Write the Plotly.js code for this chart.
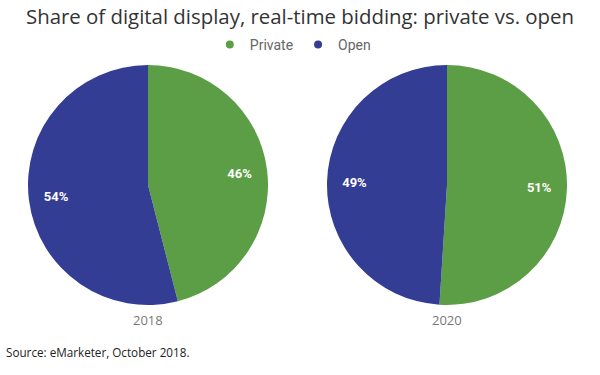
<!DOCTYPE html>
<html>
<head>
<meta charset="utf-8">
<script src="https://cdn.plot.ly/plotly-3.0.1.min.js"></script>
<style>html,body{margin:0;padding:0;background:#fff;}#chart{width:600px;height:375px;}</style>
</head>
<body>
<div id="chart"></div>
<script>
const categories = ["Private", "Open"];
const years = ["2018", "2020"];
const values2018 = [46, 54];
const values2020 = [51, 49];
const colors = ["#5c9e46", "#343d94"];
const titleText = "Share of digital display, real-time bidding: private vs. open";
const sourceText = "Source: eMarketer, October 2018.";

const domains = [
  {x: [28/600, 268/600], y: [1 - 305/375, 1 - 65/375]},
  {x: [327/600, 567/600], y: [1 - 305/375, 1 - 65/375]}
];
const seriesValues = [values2018, values2020];

const pieCommon = {
  type: "pie",
  labels: categories,
  sort: false,
  direction: "clockwise",
  rotation: 0,
  hoverinfo: "none",
  showlegend: false
};

const traces = [];
// filled pies
seriesValues.forEach((v, i) => {
  traces.push(Object.assign({}, pieCommon, {
    values: v, domain: domains[i],
    marker: {colors: colors, line: {width: 0}},
    textinfo: "none"
  }));
});
// percentage labels (transparent ring so labels sit further out)
seriesValues.forEach((v, i) => {
  traces.push(Object.assign({}, pieCommon, {
    values: v, domain: domains[i], hole: 0.54,
    marker: {colors: ["rgba(0,0,0,0)", "rgba(0,0,0,0)"], line: {width: 0}},
    texttemplate: "<b>%{percent:.0%}</b>",
    textposition: "inside",
    insidetextorientation: "horizontal",
    insidetextfont: {family: "Roboto, sans-serif", size: 13, color: "#ffffff"}
  }));
});

categories.forEach((c, i) => {
  traces.push({
    type: "scatter", mode: "markers", x: [null], y: [null], name: c,
    marker: {symbol: "circle", size: 8, color: colors[i]},
    showlegend: true, hoverinfo: "none"
  });
});

const layout = {
  width: 600, height: 375,
  margin: {l: 0, r: 0, t: 0, b: 0},
  paper_bgcolor: "#ffffff", plot_bgcolor: "rgba(0,0,0,0)",
  title: {
    text: titleText,
    font: {family: "Open Sans, sans-serif", size: 20.4, color: "#333333"},
    x: 0.5, xanchor: "center", y: 1 - 17/375, yanchor: "middle"
  },
  xaxis: {visible: false, domain: [0, 0.01]},
  yaxis: {visible: false, domain: [0, 0.01]},
  legend: {
    orientation: "h", x: 0.488, xanchor: "center", y: 1 - 45/375, yanchor: "middle",
    font: {family: "Roboto, sans-serif", size: 14, color: "#666666"},
    itemwidth: 30, tracegroupgap: 0
  },
  annotations: [
    {text: years[0], x: 148/600, y: 1 - 320/375, xref: "paper", yref: "paper", showarrow: false,
     xanchor: "center", yanchor: "middle", font: {family: "Open Sans, sans-serif", size: 13, color: "#777777"}},
    {text: years[1], x: 447/600, y: 1 - 320/375, xref: "paper", yref: "paper", showarrow: false,
     xanchor: "center", yanchor: "middle", font: {family: "Open Sans, sans-serif", size: 13, color: "#777777"}},
    {text: sourceText, x: 4/600, y: 1 - 352/375, xref: "paper", yref: "paper", showarrow: false,
     xanchor: "left", yanchor: "middle", font: {family: "Open Sans, sans-serif", size: 11.7, color: "#222222"}}
  ]
};

Plotly.newPlot("chart", traces, layout, {displayModeBar: false, staticPlot: true});
</script>
</body>
</html>
